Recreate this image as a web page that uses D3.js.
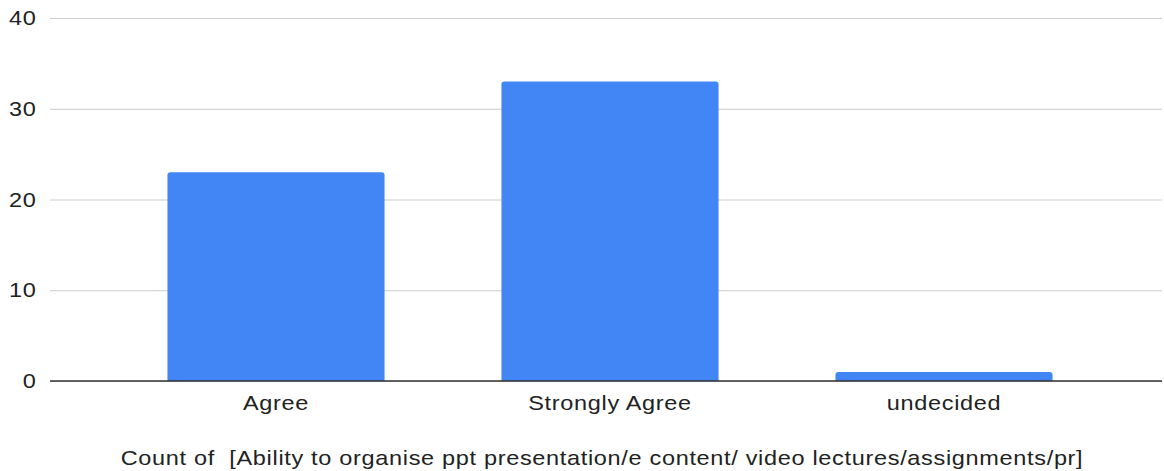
<!DOCTYPE html>
<html><head><meta charset="utf-8">
<script src="https://cdn.jsdelivr.net/npm/d3@7"></script>
<style>body{margin:0;background:#fff}svg{display:block}text{font-family:"Liberation Sans",Arial,sans-serif;fill:#222}</style>
</head><body><svg id="c" width="1164" height="471"></svg>
<script>
const categories = ["Agree", "Strongly Agree", "undecided"];
const counts = [23, 33, 1];
const yTicks = [0, 10, 20, 30, 40];
const xTitle = "Count of  [Ability to organise ppt presentation/e content/ video lectures/assignments/pr]";

const FS = 21, LS = 0.6, SX = 1.12;
const svg = d3.select("#c");
const x = d3.scaleBand().domain(categories).range([109, 1111]).paddingInner(0.35).paddingOuter(0.175);
const y = d3.scaleLinear().domain([0, 40]).range([381, 18]);

const yAxis = svg.append("g").attr("transform", "translate(50,0)")
  .call(d3.axisLeft(y).tickValues(yTicks).tickSize(-1112).tickPadding(12));
yAxis.select(".domain").remove();
yAxis.selectAll(".tick line").attr("stroke", "#ccc").attr("stroke-width", 1);
yAxis.selectAll(".tick text").attr("font-size", FS).attr("letter-spacing", LS)
  .attr("transform", `scale(${SX},1)`).style("fill", "#222");

svg.append("g").selectAll("path").data(categories).join("path")
  .attr("fill", "#4285f4")
  .attr("d", (d, i) => {
    const x0 = x(d), w = x.bandwidth(), y0 = y(counts[i]), h = y(0) - y0, r = Math.min(3, h);
    return `M${x0},${y0 + h}V${y0 + r}Q${x0},${y0} ${x0 + r},${y0}H${x0 + w - r}Q${x0 + w},${y0} ${x0 + w},${y0 + r}V${y0 + h}Z`;
  });

svg.append("line").attr("x1", 50).attr("x2", 1162).attr("y1", y(0)).attr("y2", y(0)).attr("stroke", "#333").attr("stroke-width", 1.5);

const xAxis = svg.append("g").attr("transform", `translate(0,${y(0)})`)
  .call(d3.axisBottom(x).tickSize(0).tickPadding(14));
xAxis.select(".domain").remove();
xAxis.selectAll(".tick text").attr("font-size", FS).attr("letter-spacing", LS)
  .attr("transform", `scale(${SX},1)`).style("fill", "#222");

svg.append("g").attr("transform", `translate(602,465) scale(${SX},1)`)
  .append("text").attr("text-anchor", "middle")
  .attr("font-size", FS).attr("letter-spacing", LS).attr("xml:space", "preserve").style("white-space", "pre")
  .text(xTitle);
</script></body></html>
